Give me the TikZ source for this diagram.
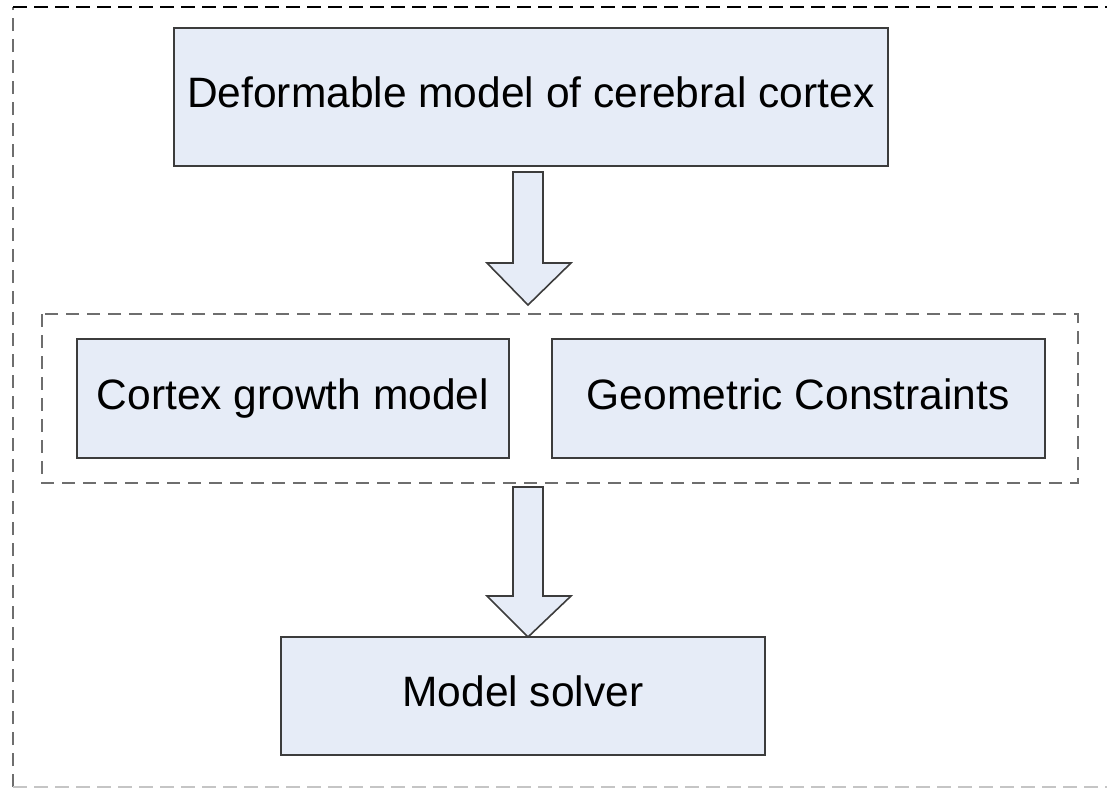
\documentclass[tikz,border=0pt]{standalone}
\usepackage{fontspec}
\setmainfont{Liberation Sans}
\definecolor{boxfill}{HTML}{E6ECF7}
\definecolor{boxline}{HTML}{3C3C3C}
\definecolor{dashgray}{HTML}{6E6E6E}
\tikzset{
  blk/.style={draw=boxline, fill=boxfill, line width=1.6pt, anchor=north west, inner sep=0pt, text height=30pt, text depth=8pt, font=\fontsize{42.5}{50}\selectfont},
  blockarrow/.style={draw=boxline, fill=boxfill, line width=1.6pt, line join=miter},
  dashbox/.style={draw=dashgray, line width=2pt, dash pattern=on 13pt off 8pt},
}
\begin{document}
\begin{tikzpicture}[x=1pt,y=-1pt]
\useasboundingbox (0,0) rectangle (1107,787);
\clip (0,0) rectangle (1107,787);
% outer dashed frame
\draw[dashgray, line width=2pt, dash pattern=on 13pt off 8pt] (13,787) -- (13,7);
\draw[black, line width=2pt, dash pattern=on 14pt off 7pt] (13,7) -- (1120,7);
\draw[dashgray!40, line width=2pt, dash pattern=on 14pt off 7pt] (13,786.5) -- (1120,786.5);
% inner dashed frame
\draw[dashbox] (42,314) rectangle (1078,483);
% boxes
\node[blk, minimum width=714pt, minimum height=138pt] (top) at (173,27) {Deformable model of cerebral cortex};
\node[blk, minimum width=432pt, minimum height=119pt] (cgm) at (76,338) {Cortex growth model};
\node[blk, minimum width=493pt, minimum height=119pt] (geo) at (551,338) {Geometric Constraints};
\node[blk, minimum width=484pt, minimum height=118pt] (solver) at (280,636) {Model solver};
% block arrows
\coordinate (a1t) at (528,172);
\coordinate (a1h) at (528,305);
\coordinate (a2t) at (528,487);
\coordinate (a2h) at (528,637);
\draw[blockarrow] ([xshift=-15pt]a1t) -- ([xshift=15pt]a1t) -- ([xshift=15pt,yshift=42pt]a1h) -- ([xshift=43pt,yshift=42pt]a1h) -- (a1h) -- ([xshift=-41pt,yshift=42pt]a1h) -- ([xshift=-15pt,yshift=42pt]a1h) -- cycle;
\draw[blockarrow] ([xshift=-15pt]a2t) -- ([xshift=15pt]a2t) -- ([xshift=15pt,yshift=41pt]a2h) -- ([xshift=43pt,yshift=41pt]a2h) -- (a2h) -- ([xshift=-41pt,yshift=41pt]a2h) -- ([xshift=-15pt,yshift=41pt]a2h) -- cycle;
\end{tikzpicture}
\end{document}
